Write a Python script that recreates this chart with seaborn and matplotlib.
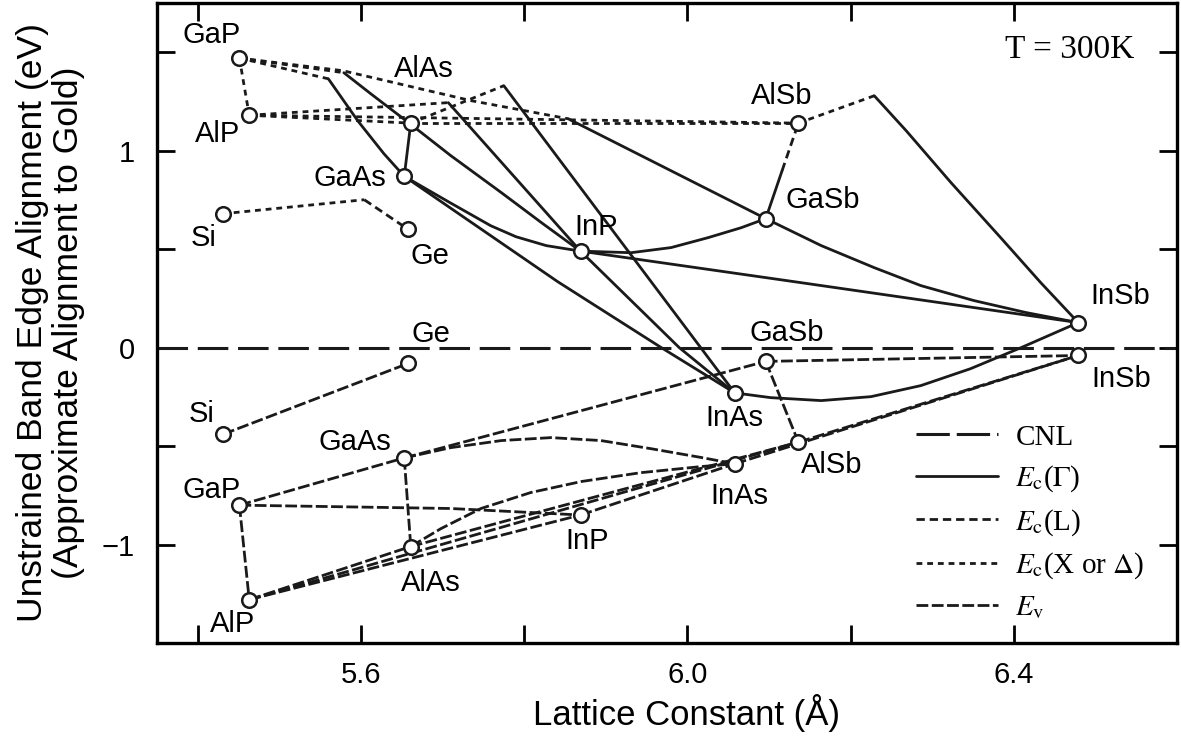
import pandas as pd
import matplotlib
matplotlib.use('Agg')
import matplotlib.pyplot as plt
import seaborn as sns
from matplotlib.lines import Line2D

sns.set_theme(style='ticks')
plt.rcParams['font.family'] = ['Liberation Sans', 'DejaVu Sans']
plt.rcParams['mathtext.fontset'] = 'stix'
plt.rcParams['lines.scale_dashes'] = False
for key in ['text.color', 'axes.labelcolor', 'xtick.color', 'ytick.color', 'axes.edgecolor']:
    plt.rcParams[key] = 'black'

# binary compounds: lattice constant (A), conduction band minimum, valence band maximum (eV)
compounds = ['Si', 'Ge', 'GaP', 'AlP', 'GaAs', 'AlAs', 'InP', 'InAs', 'GaSb', 'AlSb', 'InSb']
lattice = [5.431, 5.658, 5.451, 5.463, 5.653, 5.661, 5.869, 6.058, 6.096, 6.136, 6.479]
ec_min = [0.68, 0.60, 1.47, 1.18, 0.87, 1.14, 0.49, -0.23, 0.655, 1.14, 0.127]
ev_max = [-0.44, -0.08, -0.80, -1.28, -0.56, -1.01, -0.85, -0.59, -0.07, -0.48, -0.04]

# alloy curves, each as ([lattice...], [energy...])
gamma_lines = [
    ([5.653, 5.661], [0.87, 1.14]),                                   # AlGaAs
    ([5.560, 5.596, 5.628, 5.653], [1.365, 1.152, 0.985, 0.87]),      # GaAsP
    ([5.579, 5.612, 5.660, 5.710, 5.772, 5.821, 5.869],
     [1.396, 1.289, 1.137, 0.975, 0.787, 0.635, 0.49]),               # GaInP
    ([5.707, 5.869], [1.244, 0.49]),                                  # AlInP
    ([5.775, 6.058], [1.33, -0.23]),                                  # AlInAs
    ([5.653, 5.841, 5.968, 6.058], [0.87, 0.335, 0.0, -0.23]),        # InGaAs
    ([5.869, 5.990, 6.058], [0.49, 0.0, -0.23]),                      # InAsP
    ([5.653, 5.707, 5.759, 5.790, 5.827, 5.869, 5.931, 5.980, 6.025, 6.066, 6.096],
     [0.87, 0.741, 0.619, 0.563, 0.518, 0.49, 0.482, 0.508, 0.558, 0.609, 0.655]),  # GaAsSb
    ([5.854, 6.096], [1.162, 0.655]),                                 # GaPSb
    ([5.869, 6.139, 6.479], [0.49, 0.33, 0.127]),                     # InPSb
    ([6.096, 6.164, 6.229, 6.286, 6.351, 6.415, 6.479],
     [0.655, 0.518, 0.406, 0.315, 0.239, 0.178, 0.127]),              # InGaSb
    ([6.058, 6.102, 6.164, 6.225, 6.286, 6.347, 6.409, 6.479],
     [-0.23, -0.254, -0.269, -0.249, -0.193, -0.107, 0.0, 0.127]),    # InAsSb
    ([6.229, 6.268, 6.323, 6.384, 6.433, 6.479],
     [1.279, 1.102, 0.838, 0.558, 0.330, 0.127]),                     # AlInSb
    ([6.096, 6.116], [0.655, 0.898]),                                 # AlGaSb (direct)
]

l_lines = [
    ([6.116, 6.136], [0.898, 1.14]),      # AlGaSb
    ([5.604, 5.658], [0.751, 0.60]),      # SiGe
]

x_lines = [
    ([5.451, 5.463], [1.47, 1.18]),                                 # AlGaP
    ([5.451, 5.560], [1.47, 1.365]),                                # GaAsP
    ([5.451, 5.579], [1.47, 1.396]),                                # GaInP
    ([5.451, 5.578, 5.735, 5.854], [1.47, 1.406, 1.254, 1.162]),    # GaPSb
    ([5.463, 5.661], [1.18, 1.14]),                                 # AlAsP
    ([5.463, 6.136], [1.18, 1.14]),                                 # AlPSb
    ([5.661, 6.136], [1.14, 1.14]),                                 # AlAsSb
    ([5.463, 5.707], [1.18, 1.244]),                                # AlInP
    ([5.661, 5.775], [1.14, 1.33]),                                 # AlInAs
    ([6.136, 6.229], [1.14, 1.279]),                                # AlInSb
    ([5.431, 5.604], [0.68, 0.751]),                                # SiGe
]

ev_lines = [
    ([5.431, 5.658], [-0.44, -0.08]),                               # SiGe
    ([5.451, 5.463], [-0.80, -1.28]),                               # AlGaP
    ([5.451, 5.653], [-0.80, -0.56]),                               # GaAsP
    ([5.451, 5.710, 5.869], [-0.80, -0.817, -0.85]),                # GaInP
    ([5.463, 5.661], [-1.28, -1.01]),                               # AlAsP
    ([5.463, 5.869], [-1.28, -0.85]),                               # AlInP
    ([5.463, 6.136], [-1.28, -0.48]),                               # AlPSb
    ([5.653, 5.661], [-0.56, -1.01]),                               # AlGaAs
    ([5.653, 6.096], [-0.56, -0.07]),                               # GaAsSb
    ([5.653, 5.710, 5.772, 5.833, 5.894, 5.955, 6.017, 6.058],
     [-0.56, -0.508, -0.472, -0.457, -0.472, -0.513, -0.558, -0.59]),   # InGaAs
    ([5.661, 5.698, 5.747, 5.808, 5.870, 5.943, 6.017, 6.058],
     [-1.01, -0.919, -0.817, -0.736, -0.680, -0.635, -0.604, -0.59]),   # AlInAs
    ([5.661, 6.136], [-1.01, -0.48]),                               # AlAsSb
    ([5.869, 6.058], [-0.85, -0.59]),                               # InAsP
    ([6.058, 6.479], [-0.59, -0.04]),                               # InAsSb
    ([6.136, 6.479], [-0.48, -0.04]),                               # AlInSb
    ([6.096, 6.479], [-0.07, -0.04]),                               # InGaSb
    ([6.096, 6.136], [-0.07, -0.48]),                               # AlGaSb
]

# text labels: (text, lattice, energy)
upper_labels = [('GaP', 5.4175, 1.589), ('AlP', 5.4248, 1.086), ('AlAs', 5.677, 1.416),
                ('GaAs', 5.5865, 0.863), ('Si', 5.4077, 0.558), ('Ge', 5.6845, 0.467),
                ('InP', 5.888, 0.614), ('AlSb', 6.1158, 1.279), ('GaSb', 6.166, 0.751),
                ('InSb', 6.531, 0.264), ('InAs', 6.058, -0.355)]
lower_labels = [('Ge', 5.6858, 0.071), ('GaSb', 6.122, 0.076), ('Si', 5.405, -0.335),
                ('GaAs', 5.5926, -0.477), ('GaP', 5.4175, -0.721), ('InAs', 6.064, -0.751),
                ('AlSb', 6.177, -0.594), ('InSb', 6.532, -0.157), ('InP', 5.877, -0.980),
                ('AlAs', 5.6858, -1.193), ('AlP', 5.4432, -1.401)]

band_dashes = {'gamma': '', 'L': (6, 3.5), 'X': (4.2, 3.5), 'Ev': (8.5, 2.5)}

rows = []
for band, segs in [('gamma', gamma_lines), ('L', l_lines), ('X', x_lines), ('Ev', ev_lines)]:
    for i, (xs, ys) in enumerate(segs):
        for x, y in zip(xs, ys):
            rows.append((f'{band}{i}', band, x, y))
curves = pd.DataFrame(rows, columns=['seg', 'band', 'a', 'E'])

points = pd.DataFrame({'a': lattice + lattice, 'E': ec_min + ev_max})

fig = plt.figure(figsize=(11.81, 7.41), dpi=100)
ax = fig.add_axes([157 / 1181, 1 - 643 / 741, 1020 / 1181, 640 / 741])

ax.axhline(0, color='k', lw=2.2, dashes=(22, 7), zorder=1)
sns.lineplot(data=curves, x='a', y='E', units='seg', estimator=None, sort=False,
             style='band', dashes=band_dashes, color='k', lw=2.0, legend=False, ax=ax)
sns.scatterplot(data=points, x='a', y='E', marker='o', s=110, facecolor='white',
                edgecolor='k', linewidth=1.8, zorder=5, ax=ax)

for txt, x, y in upper_labels + lower_labels:
    ax.text(x, y, txt, ha='center', va='center', fontsize=21)
ax.text(6.4686, 1.513, 'T = 300K', ha='center', va='center', fontsize=24,
        family='Liberation Serif')

ax.set_xlim(5.35, 6.60)
ax.set_ylim(-1.5, 1.75)
ax.set_xticks([5.4, 5.6, 5.8, 6.0, 6.2, 6.4])
ax.set_xticklabels(['', '5.6', '', '6.0', '', '6.4'])
ax.set_yticks([-1.5, -1.0, -0.5, 0.0, 0.5, 1.0, 1.5])
ax.set_yticklabels(['', '\u22121', '', '0', '', '1', ''])
ax.tick_params(direction='in', length=13, width=2.0, top=True, right=True, labelsize=21, pad=13)
ax.tick_params(axis='y', pad=16)
for sp in ax.spines.values():
    sp.set_linewidth(2.4)

ax.set_xlabel('Lattice Constant (Å)', fontsize=25)
ax.xaxis.set_label_coords(0.519, -0.080)
ax.set_ylabel('Unstrained Band Edge Alignment (eV)\n(Approximate Alignment to Gold)',
              fontsize=25.5, labelpad=12, linespacing=1.1)

handles = [Line2D([], [], color='k', lw=2.2, dashes=(24, 5)),
           Line2D([], [], color='k', lw=2.0),
           Line2D([], [], color='k', lw=2.0, dashes=band_dashes['L']),
           Line2D([], [], color='k', lw=2.0, dashes=band_dashes['X']),
           Line2D([], [], color='k', lw=2.0, dashes=band_dashes['Ev'])]
labels = ['CNL', r'$E_{\rm c}$($\Gamma$)', r'$E_{\rm c}$(L)', r'$E_{\rm c}$(X or $\Delta$)', r'$E_{\rm v}$']
ax.legend(handles, labels, loc='upper left', bbox_to_anchor=(0.733, 0.36), frameon=False,
          prop={'family': 'Liberation Serif', 'size': 21}, handlelength=2.8,
          labelspacing=0.44, handletextpad=0.6, borderaxespad=0)

fig.savefig('out.png', dpi=100)
